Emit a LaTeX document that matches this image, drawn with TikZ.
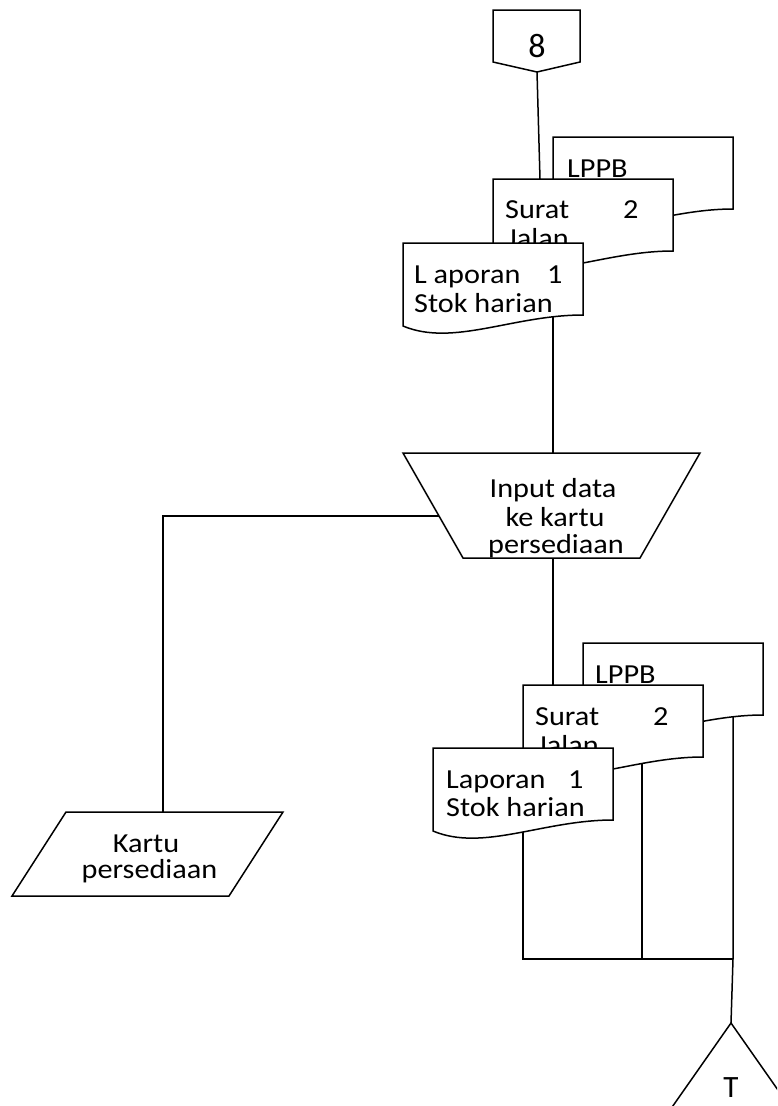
\documentclass[tikz,border=0pt]{standalone}
\usepackage{fontspec}
\newfontfamily\lblfont[FakeStretch=1.1]{Carlito}
\newfontfamily\symfont{Carlito}
\usetikzlibrary{calc}
\tikzset{
  line/.style={line width=1.5pt, line join=miter},
  shapeline/.style={line width=1.5pt, fill=white, line join=miter},
  lbl/.style={inner sep=0pt, anchor=base west, font=\lblfont\fontsize{27.5}{30}\selectfont},
  lblc/.style={lbl, anchor=base},
  sym/.style={inner sep=0pt, anchor=base, font=\symfont\fontsize{34}{38}\selectfont},
}
% document symbol with a wavy lower edge, drawn at the current origin
\newcommand\docsym{\filldraw[shapeline] (0,0) -- (180,0) -- (180,72)
  .. controls (110,72) and (50,104) .. (0,83) -- cycle;}

\begin{document}
\begin{tikzpicture}[x=1pt,y=-1pt]
\useasboundingbox (0,0) rectangle (777,1106);
\clip (0,0) rectangle (777,1106);

% off-page connector
\filldraw[shapeline] (493,10) -- (580,10) -- (580,62) -- (537,72) -- (493,62) -- cycle;
\coordinate (pg-out) at (537,72);
\node[sym] (pg) at (537,57) {8};

% first stack of documents
\begin{scope}[shift={(553,137)}]
  \docsym
\end{scope}
\node[lbl] (lppbA) at (567,177) {LPPB};
\begin{scope}[shift={(493,179)}]
  \docsym \coordinate (sjA-in) at (47,0);
\end{scope}
\node[lbl] (sjA) at (505,218) {Surat};
\node[lbl] (sjA-no) at (623,218) {2};
\node[lbl] (sjA-2) at (507,247) {Jalan};
\begin{scope}[shift={(403,243)}]
  \docsym \coordinate (lapA-out) at (150,73.5);
\end{scope}
\node[lbl] (lapA) at (414,283) {L aporan};
\node[lbl] (lapA-no) at (547,283) {1};
\node[lbl] (lapA-2) at (414,312) {Stok harian};

% manual input step
\filldraw[shapeline] (403,453) coordinate (inp-tl) -- (700,453) -- (640,558)
  -- (463,558) coordinate (inp-bl) -- cycle;
\coordinate (inp-n) at (553,453);
\coordinate (inp-s) at (553,558);
\coordinate (inp-w) at ($(inp-tl)!0.6!(inp-bl)$);
\node[lblc] (inp1) at (553,497) {Input data};
\node[lblc] (inp2) at (555,526) {ke kartu};
\node[lblc] (inp3) at (556,553) {persediaan};

% stored record
\filldraw[shapeline] (66,812) -- (283,812) -- (229,896) -- (12,896) -- cycle;
\coordinate (kp-top) at (163,812);
\node[lblc] (kp1) at (146,852) {Kartu};
\node[lblc] (kp2) at (149.5,878) {persediaan};

% second stack of documents
\begin{scope}[shift={(583,643)}]
  \docsym \coordinate (lppbB-out) at (150,73.4);
\end{scope}
\node[lbl] (lppbB) at (595,683) {LPPB};
\begin{scope}[shift={(523,685)}]
  \docsym \coordinate (sjB-in) at (30,0); \coordinate (sjB-out) at (119,78.4);
\end{scope}
\node[lbl] (sjB) at (535,725) {Surat};
\node[lbl] (sjB-no) at (653,725) {2};
\node[lbl] (sjB-2) at (537,754) {Jalan};
\begin{scope}[shift={(433,748)}]
  \docsym \coordinate (lapB-out) at (90,84);
\end{scope}
\node[lbl] (lapB) at (446,788) {Laporan};
\node[lbl] (lapB-no) at (568,788) {1};
\node[lbl] (lapB-2) at (446,816) {Stok harian};

% off-page end marker
\draw[line] (731,1023) coordinate (tri-top) -- (813,1140) -- (649,1140) -- cycle;
\node[sym, font=\symfont\fontsize{31}{34}\selectfont] (tri) at (731,1097) {T};

% flow lines
\coordinate (join) at (733,959);
\draw[line] (pg-out) -- (sjA-in);
\draw[line] (lapA-out) -- (inp-n);
\draw[line] (inp-w) -| (kp-top);
\draw[line] (inp-s) -- (sjB-in);
\draw[line] (lapB-out) |- (join);
\draw[line] (sjB-out) -- (sjB-out |- join);
\draw[line] (lppbB-out) -- (join) -- (tri-top);
\end{tikzpicture}
\end{document}
